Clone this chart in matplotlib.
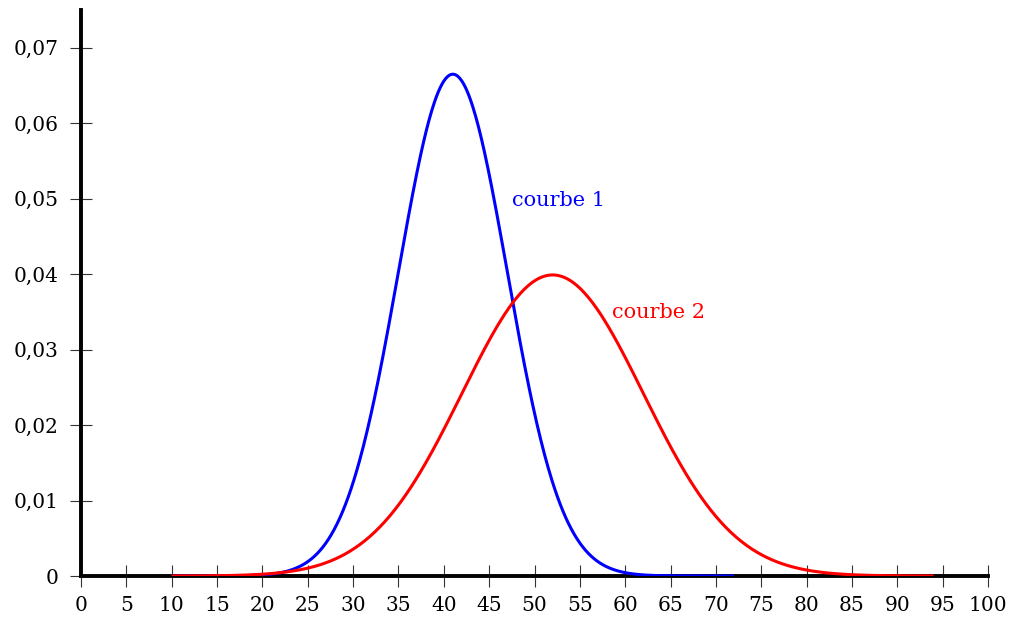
import numpy as np
import matplotlib
matplotlib.use("Agg")
import matplotlib.pyplot as plt

# Data: two normal density curves (parameters)
curve_names = ["courbe 1", "courbe 2"]
curve_means = [41, 52]
curve_sigmas = [6, 10]
curve_ranges = [(10, 72), (10, 94)]
curve_colors = ["#0000ff", "#ff0000"]
label_positions = [(47.5, 0.0498), (58.5, 0.0349)]

x_ticks = list(range(0, 101, 5))
y_ticks = [0, 0.01, 0.02, 0.03, 0.04, 0.05, 0.06, 0.07]
y_tick_labels = ["0", "0,01", "0,02", "0,03", "0,04", "0,05", "0,06", "0,07"]

plt.rcParams['font.family'] = ['DejaVu Serif']

fig = plt.figure(figsize=(10.11, 6.21), dpi=100)
ax = fig.add_axes([81/1011, 45/621, (988-81)/1011, (576-10)/621])

for name, mu, s, (a, b), c in zip(curve_names, curve_means, curve_sigmas, curve_ranges, curve_colors):
    x = np.linspace(a, b, 600)
    y = np.exp(-0.5*((x-mu)/s)**2)/(s*np.sqrt(2*np.pi))
    ax.plot(x, y, color=c, lw=2.2, zorder=3, solid_capstyle='butt')

for name, (lx, ly), c in zip(curve_names, label_positions, curve_colors):
    ax.text(lx, ly, name, color=c, fontsize=15, ha='left', va='center')

ax.set_xlim(0, 100)
ax.set_ylim(0, 0.0750)
ax.set_xticks(x_ticks)
ax.set_xticklabels([str(v) for v in x_ticks])
ax.set_yticks(y_ticks)
ax.set_yticklabels(y_tick_labels)

for sp in ['top', 'right']:
    ax.spines[sp].set_visible(False)
for sp in ['left', 'bottom']:
    ax.spines[sp].set_linewidth(2.8)
    ax.spines[sp].set_color('black')
    ax.spines[sp].set_zorder(2)
ax.spines['left'].set_bounds(0, 0.0750)
ax.spines['bottom'].set_bounds(0, 100)

ax.tick_params(axis='both', direction='inout', length=15.5, width=0.8,
               color='#333333', labelsize=14.5, labelcolor='black')
ax.tick_params(axis='x', pad=6.5)
ax.tick_params(axis='y', pad=8.5)
ax.patch.set_visible(False)

fig.savefig("out.png", dpi=100)
